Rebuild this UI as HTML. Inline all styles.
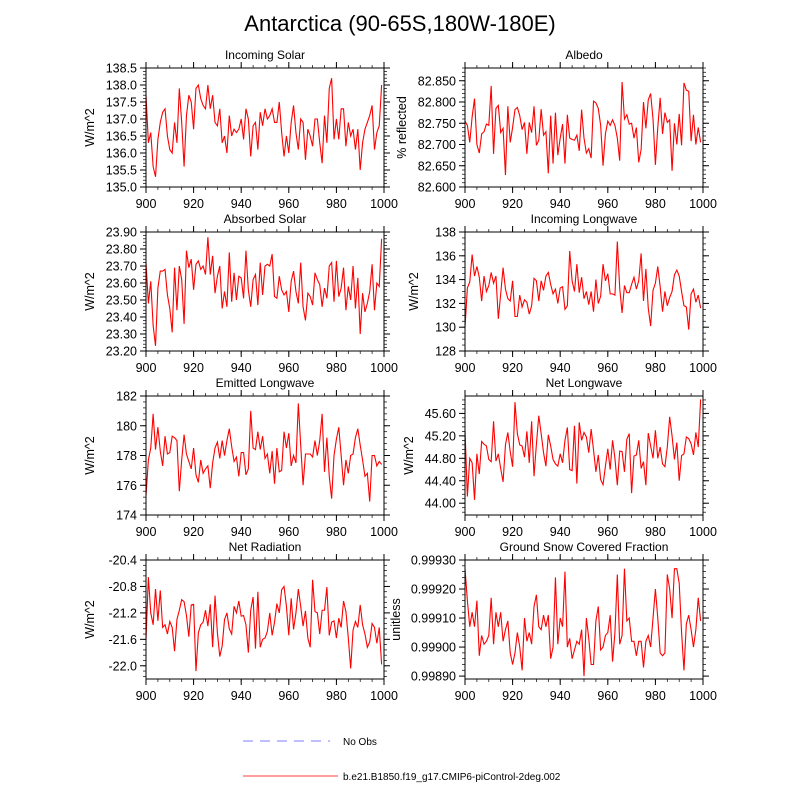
<!DOCTYPE html>
<html><head><meta charset="utf-8"><style>
body{margin:0;background:#fff;font-family:"Liberation Sans",sans-serif}
svg text{font-family:"Liberation Sans",sans-serif}
</style></head><body>
<svg id="chart" xmlns="http://www.w3.org/2000/svg" width="800" height="800" viewBox="0 0 800 800">
<rect width="800" height="800" fill="#fff"/>
<text x="400" y="31" text-anchor="middle" font-size="22">Antarctica (90-65S,180W-180E)</text>
<g>
<line x1="243" y1="741" x2="330" y2="741" stroke="#9999ff" stroke-width="1.2" stroke-dasharray="10,7"/>
<text x="343" y="745" font-size="10">No Obs</text>
<line x1="243" y1="776" x2="338" y2="776" stroke="#ff6666" stroke-width="1.2"/>
<text x="343" y="780" font-size="10">b.e21.B1850.f19_g17.CMIP6-piControl-2deg.002</text>
</g>
</svg>
<script>
const xTicks=[900,920,940,960,980,1000];
const solarIn=[137.7,136.3,136.6,135.6,135.3,136.4,136.9,137.2,137.3,136.5,136.1,136.0,136.9,136.3,137.9,136.9,135.6,137.1,137.7,137.5,136.7,137.9,138.0,137.6,137.4,137.3,138.0,137.3,137.7,136.9,136.8,137.3,136.3,136.5,136.0,137.1,136.5,136.7,136.6,136.7,137.0,136.4,137.3,137.0,135.9,136.8,136.9,136.1,137.2,136.8,137.3,137.0,137.1,137.3,136.9,136.9,137.5,136.6,135.9,136.5,136.0,136.9,137.4,136.6,136.1,137.0,136.9,135.8,136.7,136.5,136.2,137.0,137.0,136.3,135.7,137.1,136.3,137.9,138.2,136.4,137.0,136.4,137.3,137.3,136.2,136.9,136.5,136.7,136.1,136.7,135.5,136.3,136.7,136.9,137.1,137.4,136.1,136.6,136.8,138.0];
const albedo=[82.755,82.745,82.705,82.765,82.808,82.700,82.680,82.725,82.730,82.748,82.745,82.838,82.678,82.785,82.792,82.728,82.738,82.628,82.790,82.705,82.740,82.782,82.787,82.768,82.735,82.752,82.678,82.752,82.728,82.790,82.698,82.710,82.783,82.722,82.730,82.632,82.768,82.655,82.775,82.675,82.715,82.748,82.655,82.770,82.715,82.712,82.710,82.722,82.685,82.782,82.715,82.680,82.690,82.668,82.802,82.798,82.785,82.745,82.650,82.725,82.755,82.745,82.758,82.745,82.715,82.662,82.847,82.760,82.770,82.748,82.750,82.715,82.740,82.658,82.688,82.800,82.738,82.805,82.820,82.760,82.652,82.740,82.810,82.725,82.775,82.752,82.758,82.638,82.750,82.700,82.772,82.698,82.845,82.828,82.825,82.708,82.770,82.700,82.740,82.705];
const solarAbs=[23.72,23.48,23.61,23.35,23.23,23.57,23.67,23.67,23.68,23.53,23.45,23.31,23.69,23.44,23.70,23.62,23.36,23.79,23.69,23.74,23.56,23.71,23.73,23.68,23.70,23.65,23.87,23.65,23.76,23.54,23.64,23.70,23.45,23.55,23.46,23.78,23.49,23.66,23.50,23.64,23.63,23.51,23.79,23.56,23.46,23.62,23.65,23.47,23.72,23.53,23.70,23.71,23.70,23.77,23.52,23.51,23.64,23.56,23.53,23.55,23.43,23.61,23.67,23.55,23.48,23.72,23.46,23.38,23.54,23.52,23.47,23.66,23.62,23.59,23.46,23.57,23.51,23.70,23.72,23.49,23.73,23.52,23.57,23.69,23.44,23.58,23.50,23.70,23.45,23.63,23.30,23.54,23.43,23.48,23.55,23.71,23.44,23.60,23.58,23.86];
const lwIn=[130.0,133.3,133.8,136.1,134.3,135.1,134.2,132.2,134.3,133.0,133.5,134.6,133.7,134.3,130.7,132.8,135.0,133.2,132.4,132.2,133.9,130.9,130.9,132.7,131.7,132.3,132.1,131.1,131.8,134.1,133.9,132.2,133.9,133.1,134.3,134.6,133.6,132.8,133.2,132.0,133.3,133.4,131.5,131.8,136.4,133.9,133.0,135.3,132.9,134.2,132.4,133.0,131.9,133.0,131.3,134.0,132.0,132.6,135.3,133.9,134.5,132.8,132.8,132.7,137.2,133.3,131.2,133.5,132.9,132.9,133.6,134.2,133.2,133.9,136.2,132.2,134.9,131.6,130.1,133.1,133.7,135.1,133.4,131.3,133.0,131.8,132.5,133.0,134.4,134.8,134.3,133.0,131.8,131.7,129.8,132.8,133.2,132.1,132.7,131.6];
const lwOut=[175.3,177.7,178.5,180.8,178.4,179.9,178.3,177.3,179.3,178.1,178.2,179.3,179.2,179.0,175.6,177.7,179.4,178.1,177.6,177.1,178.5,176.7,176.2,177.7,176.8,177.1,177.3,175.8,177.5,178.5,178.9,177.8,179.0,178.0,179.0,179.8,178.6,177.6,177.9,176.6,178.2,178.2,176.7,177.1,181.0,178.5,178.4,179.6,178.4,179.3,177.8,178.1,176.8,178.3,176.1,178.5,176.9,177.0,179.6,178.5,179.5,177.3,178.0,177.5,181.5,178.7,176.0,178.1,178.1,178.1,177.9,179.0,178.0,179.0,180.8,176.9,179.2,176.6,175.1,178.0,179.1,179.9,178.0,176.0,177.7,176.8,178.0,178.1,179.2,179.8,178.7,177.7,176.6,176.8,174.9,178.0,178.0,177.3,177.6,177.4];
const lwNet=[45.30,44.12,44.80,44.72,44.06,44.88,44.52,45.10,45.05,45.02,44.78,44.74,45.46,44.75,44.88,44.62,44.38,45.04,45.26,44.92,44.65,45.80,45.24,45.04,45.02,44.82,45.28,44.72,45.46,44.48,45.05,45.56,45.24,44.90,44.66,45.22,45.02,44.78,44.70,44.66,44.88,44.72,45.12,45.35,44.60,44.58,45.38,44.35,45.44,45.12,45.26,45.18,44.90,45.32,44.95,44.56,44.86,44.42,44.33,44.66,44.97,44.60,45.12,44.80,44.32,44.93,44.92,44.56,45.14,45.24,44.18,44.84,44.86,45.12,44.62,44.74,44.32,45.25,45.02,44.80,45.30,44.80,45.00,44.70,44.65,45.00,45.54,45.20,44.78,45.08,44.40,44.85,44.88,45.18,45.15,45.06,44.86,45.26,45.00,45.85];
const netRad=[-21.60,-20.66,-21.20,-21.38,-20.84,-21.32,-20.86,-21.42,-21.38,-21.52,-21.33,-21.42,-21.78,-21.30,-21.16,-21.00,-21.03,-21.24,-21.56,-21.08,-21.07,-22.08,-21.50,-21.38,-21.34,-21.16,-21.40,-21.07,-21.72,-20.94,-21.50,-21.86,-21.70,-21.30,-21.20,-21.44,-21.52,-21.10,-21.20,-21.02,-21.25,-21.24,-21.38,-21.80,-21.16,-20.96,-21.74,-20.88,-21.72,-21.60,-21.58,-21.48,-21.20,-21.54,-21.34,-21.06,-21.20,-20.85,-20.80,-21.10,-21.54,-20.98,-21.45,-21.20,-20.84,-21.10,-21.40,-21.17,-21.58,-21.72,-20.70,-21.18,-21.20,-21.52,-21.16,-21.16,-20.81,-21.54,-21.34,-21.32,-21.58,-21.28,-21.42,-21.02,-21.18,-21.58,-22.04,-21.46,-21.33,-21.42,-21.08,-21.38,-21.52,-21.72,-21.64,-21.36,-21.42,-21.66,-21.42,-21.98];
const snow=[0.99927,0.99916,0.99907,0.99912,0.99907,0.99916,0.99897,0.99904,0.99901,0.99902,0.99904,0.99917,0.99901,0.99912,0.99907,0.99912,0.99902,0.99906,0.99909,0.99898,0.99894,0.99898,0.99905,0.99900,0.99892,0.99910,0.99902,0.99905,0.99901,0.99914,0.99918,0.99907,0.99906,0.99911,0.99907,0.99911,0.99896,0.99900,0.99924,0.99901,0.99910,0.99907,0.99926,0.99900,0.99903,0.99896,0.99899,0.99902,0.99901,0.99906,0.99890,0.99910,0.99903,0.99894,0.99894,0.99909,0.99914,0.99899,0.99900,0.99904,0.99905,0.99911,0.99895,0.99905,0.99925,0.99901,0.99904,0.99927,0.99909,0.99910,0.99902,0.99902,0.99897,0.99902,0.99902,0.99893,0.99902,0.99904,0.99900,0.99910,0.99920,0.99910,0.99898,0.99897,0.99898,0.99925,0.99920,0.99910,0.99927,0.99927,0.99922,0.99905,0.99892,0.99908,0.99911,0.99906,0.99900,0.99906,0.99917,0.99909];
const ticksSolarIn=[135.0,135.5,136.0,136.5,137.0,137.5,138.0,138.5];
const ticksAlbedo=[82.600,82.650,82.700,82.750,82.800,82.850];
const ticksAbs=[23.20,23.30,23.40,23.50,23.60,23.70,23.80,23.90];
const ticksLwIn=[128,130,132,134,136,138];
const ticksLwOut=[174,176,178,180,182];
const ticksLwNet=[44.00,44.40,44.80,45.20,45.60];
const ticksNetRad=[-22.0,-21.6,-21.2,-20.8,-20.4];
const ticksSnow=[0.99890,0.99900,0.99910,0.99920,0.99930];

const NS='http://www.w3.org/2000/svg';
const svg=document.getElementById('chart');
function mk(tag,attrs,parent){const e=document.createElementNS(NS,tag);for(const k in attrs)e.setAttribute(k,attrs[k]);(parent||svg).appendChild(e);return e;}
const cols=[146,465], W=238, H=119, rows=[68,232,396,560];
const panels=[
 {t:'Incoming Solar',y:'W/m^2',d:solarIn,tk:ticksSolarIn,min:135,max:138.5,dec:1,minor:0.1,n:'incoming-solar',yo:52},
 {t:'Albedo',y:'% reflected',d:albedo,tk:ticksAlbedo,min:82.6,max:82.88,dec:3,minor:0.01,n:'albedo',yo:59},
 {t:'Absorbed Solar',y:'W/m^2',d:solarAbs,tk:ticksAbs,min:23.2,max:23.9,dec:2,minor:0.02,n:'absorbed-solar',yo:52},
 {t:'Incoming Longwave',y:'W/m^2',d:lwIn,tk:ticksLwIn,min:128,max:138,dec:0,minor:0.5,n:'incoming-longwave',yo:47},
 {t:'Emitted Longwave',y:'W/m^2',d:lwOut,tk:ticksLwOut,min:174,max:182,dec:0,minor:0.4,n:'emitted-longwave',yo:52},
 {t:'Net Longwave',y:'W/m^2',d:lwNet,tk:ticksLwNet,min:43.79,max:45.91,dec:2,minor:0.08,n:'net-longwave',yo:52},
 {t:'Net Radiation',y:'W/m^2',d:netRad,tk:ticksNetRad,min:-22.2,max:-20.4,dec:1,minor:0.08,n:'net-radiation',yo:52},
 {t:'Ground Snow Covered Fraction',y:'unitless',d:snow,tk:ticksSnow,min:0.99889,max:0.9993,dec:5,minor:0.00002,n:'snow-fraction',yo:65}
];
panels.forEach((p,i)=>{
 const L=cols[i%2], T=rows[Math.floor(i/2)];
 const g=mk('g',{});
 
 
 const xs=v=>L+(v-900)/100*W;
 const ys=v=>T+H-(v-p.min)/(p.max-p.min)*H;
 const tt=mk('text',{x:L+W/2,y:T-9,'text-anchor':'middle','font-size':12},g);tt.textContent=p.t;
 
 
 const yt=mk('text',{x:0,y:0,'text-anchor':'middle','font-size':12.5,transform:`translate(${L-p.yo},${T+H/2}) rotate(-90)`},g);yt.textContent=p.y;
 
 
 xTicks.forEach(v=>{const x=xs(v);
  mk('line',{x1:x,y1:T+H,x2:x,y2:T+H+6,stroke:'#000'},g);
  mk('line',{x1:x,y1:T,x2:x,y2:T-6,stroke:'#000'},g);
  const tl=mk('text',{x:x,y:T+H+21,'text-anchor':'middle','font-size':12.5},g);tl.textContent=v;
  
  
 });
 for(let v=900;v<=1000;v+=5){const x=xs(v);mk('line',{x1:x,y1:T+H,x2:x,y2:T+H+3,stroke:'#000','stroke-width':0.7},g);mk('line',{x1:x,y1:T,x2:x,y2:T-3,stroke:'#000','stroke-width':0.7},g);}
 for(let v=Math.ceil(p.min/p.minor-1e-6)*p.minor;v<=p.max+1e-9;v+=p.minor){const y=ys(v);
  mk('line',{x1:L,y1:y,x2:L-3,y2:y,stroke:'#000','stroke-width':0.7},g);mk('line',{x1:L+W,y1:y,x2:L+W+3,y2:y,stroke:'#000','stroke-width':0.7},g);}
 p.tk.forEach(v=>{const y=ys(v);
  mk('line',{x1:L,y1:y,x2:L-6,y2:y,stroke:'#000'},g);mk('line',{x1:L+W,y1:y,x2:L+W+6,y2:y,stroke:'#000'},g);
  const tl=mk('text',{x:L-9,y:y+4.5,'text-anchor':'end','font-size':12.5},g);tl.textContent=v.toFixed(p.dec);
  
  
 });
 const pts=p.d.map((v,k)=>xs(900+k).toFixed(2)+','+ys(v).toFixed(2)).join(' ');
 const pl=mk('polyline',{points:pts,fill:'none',stroke:'#ff0000','stroke-width':1.1},g);
 
 
 const fr=mk('rect',{x:L,y:T,width:W,height:H,fill:'none',stroke:'#000','stroke-width':1},g);
 
 
});
</script>
</body></html>
